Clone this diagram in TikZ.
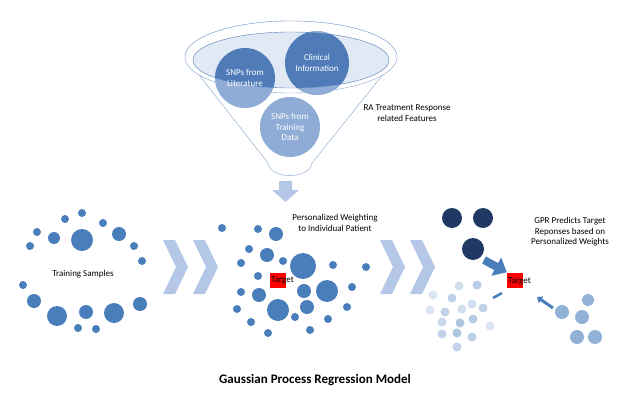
\documentclass[tikz,border=0pt]{standalone}
\usepackage{fontspec}
\setmainfont{Carlito}
\usetikzlibrary{positioning,arrows.meta}
\definecolor{dotblue}{HTML}{4A7EBB}
\definecolor{paleblue}{HTML}{B4C7E7}
\definecolor{navy}{HTML}{1F3864}
\definecolor{funnelblue}{HTML}{8EACD6}
\definecolor{funneldark}{HTML}{4F7CB8}
\tikzset{
  dot/.style={fill=dotblue,draw=none},
  chev/.style={fill=paleblue,draw=none},
  lbl/.style={font=\fontsize{9}{10.5}\selectfont,align=center,inner sep=0pt},
  target/.style={fill=red,draw=none,minimum width=16pt,minimum height=15pt,inner sep=0pt}
}
\begin{document}
\begin{tikzpicture}[x=1pt,y=-1pt]
    \useasboundingbox (0,0) rectangle (630,410);
    % funnel
    \draw[funneldark!70,fill=white] (185,57) arc (180:360:106 and 36)
      -- (312,163) to[out=-100,in=-80] (268,163) -- cycle;
    \draw[funneldark!70,fill=white] (291,57) ellipse (106 and 36);
    \fill[funnelblue] (245,78) circle (30) (317,63) circle (32) (290,127) circle (30);
    \begin{scope}
      \clip (291,60) ellipse (98 and 28);
      \fill[paleblue!40] (291,60) ellipse (98 and 28);
      \fill[funneldark] (245,78) circle (30) (317,63) circle (32);
    \end{scope}
    \draw[funneldark] (291,60) ellipse (98 and 28);
    \node[lbl,text=white] (Lit) at (245,78) {SNPs from\\Literature};
    \node[lbl,text=white] (Clin) at (317,63) {Clinical\\Information};
    \node[lbl,text=white] (Train) at (290,127) {SNPs from\\Training\\Data};
    \node[lbl] (RA) at (407,113) {RA Treatment Response\\related Features};
    \fill[paleblue] (279,181) -- (292,181) -- (292,190) -- (299,190) -- (285.5,202)
      -- (272,190) -- (279,190) -- cycle;
    % chevrons
    \foreach \x in {163,193,380,410}
      \fill[chev] (\x,240) -- (\x+12,240) -- (\x+25,267) -- (\x+12,294) -- (\x,294) -- (\x+13,267) -- cycle;
    % training samples
    \foreach \x/\y/\r in {82/240/11,54/238/6,37/232/4,30/246/4,65/219/4,82/213/4,103/223/4,
      119/234/7,134/246/4,142/261/4,23/285/4,34/301/7,57/316/10,86/312/7,114/313/10,
      140/304/7,78/328/4,96/329/4}
      \fill[dot] (\x,\y) circle (\r);
    \node[lbl] (Samples) at (83,274) {Training Samples};
    % weighting
    \foreach \x/\y/\r in {222/228/4,258/229/4,276/234/7,249/249/4,267/255/7,283/261/4,
      303/266/13,241/263/4,333/265/4,366/267/4,258/276/4,327/291/11,304/291/7,352/287/4,
      241/292/4,259/295/7,278/310/11,307/307/7,237/309/4,347/307/4,295/317/4,328/319/4,
      251/322/4,268/333/4,310/330/4}
      \fill[dot] (\x,\y) circle (\r);
    \node[target] (TgtA) at (278,280) {};
    \node[lbl,anchor=west] (TgtAtxt) at (271,280) {Target};
    \node[lbl] (Weight) at (335,223) {Personalized Weighting\\to Individual Patient};
    % prediction
    \foreach \x/\y/\r in {452/218/10,483/218/10,473/249/11}
      \fill[navy] (\x,\y) circle (\r);
    \foreach \x/\y/\o in {477/285/40,459/286/25,452/298/35,433/295/20,430/310/20,445/312/35,
      462/309/25,472/304/25,483/308/35,473/319/40,460/323/45,442/322/30,490/326/20,
      442/334/35,457/333/45,472/337/35,457/347/35}
      \fill[dotblue!\o] (\x,\y) circle (4.5);
    \foreach \x/\y/\r in {588/300/6,562/312/7,582/317/7,577/337/7,595/337/7}
      \fill[dotblue!60] (\x,\y) circle (\r);
    \node[target] (TgtB) at (515,280) {};
    \node[lbl,anchor=west] (TgtBtxt) at (508,281) {Target};
    \coordinate (Big) at (484,260);
    \coordinate (Small) at (493,298);
    \coordinate (Side) at (553,308);
    \draw[dotblue,line width=8pt,-{Triangle[length=12pt,width=20pt]}] (Big) -- (TgtB.north west);
    \draw[dotblue,line width=2.5pt] (Small) -- ++(9,-5);
    \draw[dotblue,line width=3pt,-{Triangle[length=5pt,width=8pt]}] (Side) -- (537,297);
    \node[lbl] (GPR) at (570,232) {GPR Predicts Target\\Reponses based on\\Personalized Weights};
    \node[font=\bfseries\fontsize{13}{15}\selectfont] (Title) at (315,380) {Gaussian Process Regression Model};
\end{tikzpicture}
\end{document}
